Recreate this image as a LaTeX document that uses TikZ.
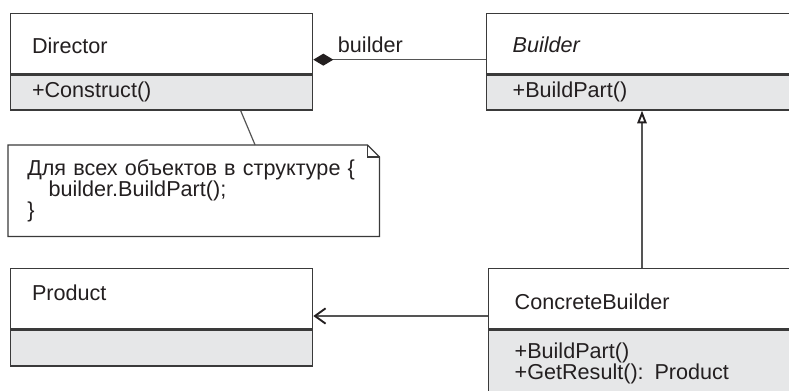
\documentclass[tikz,border=0pt]{standalone}
\usepackage{fontspec}
\setmainfont{Liberation Sans}
\usetikzlibrary{arrows.meta}
\definecolor{boxline}{HTML}{3A3A3A}
\definecolor{opsfill}{HTML}{E6E7E8}
\definecolor{inkgray}{HTML}{231F20}
\definecolor{linkgray}{HTML}{555555}
\newcommand{\umlfont}{\fontsize{16.2pt}{15.5pt}\selectfont}
\begin{document}
\begin{tikzpicture}[
x=0.75pt,y=-0.75pt,
cls/.style={%
draw=boxline,
line width=1pt,
anchor=north west,
align=left,
text=inkgray,
font=\umlfont,
inner ysep=0pt
},
leftcls/.style={cls, inner xsep=16pt, text width=194.5pt},
rightcls/.style={cls, inner xsep=19.5pt, text width=200pt},
namepart/.style={fill=white, minimum height=45pt, text height=15pt, text depth=0pt},
opspart/.style={fill=opsfill, minimum height=26.25pt, text height=7pt, text depth=0pt},
notebox/.style={anchor=north west, align=left, text=inkgray, font=\umlfont,
  inner xsep=14.25pt, inner ysep=0pt, minimum height=68.25pt, text width=249.75pt},
link/.style={draw=linkgray, line width=0.9pt}
]
\useasboundingbox (0,0) rectangle (789,391);
%% Director
\node[leftcls,namepart]at(10,13)(dirname){Director};
\node[leftcls,opspart]at(dirname.south west)(dirops){+Construct()};
%% Builder
\node[rightcls,namepart,text height=14pt]at(486,13)(bldname){\textit{Builder}};
\node[rightcls,opspart]at(bldname.south west)(bldops){+BuildPart()};
%% Product
\node[leftcls,namepart,text height=3pt]at(10,268)(prodname){Product};
\node[leftcls,opspart,minimum height=27pt]at(prodname.south west)(prodops){};
%% ConcreteBuilder
\node[rightcls,namepart,text height=17pt]at(488,268)(cbname){ConcreteBuilder};
\node[rightcls,fill=opsfill,minimum height=50pt]at(cbname.south west)(cbops){+BuildPart()\\+GetResult(): Product};
%% Note
\node[notebox]at(8,145)(note){Для всех объектов в структуре \{\\\hspace*{16pt}builder.BuildPart();\\\}};
\draw[draw=boxline,line width=0.9pt](note.north west)--([xshift=-9pt]note.north east)
  --([yshift=-9pt]note.north east)--(note.south east)--(note.south west)--cycle;
\draw[draw=boxline,line width=0.9pt]([xshift=-9pt]note.north east)|-([yshift=-9pt]note.north east);
\draw[link]([xshift=59.25pt]dirops.south)--([xshift=46pt]note.north);
%% Relations
\draw[link,{Diamond[length=15pt,width=9pt,color=inkgray]}-]([yshift=-12pt]dirname.east)--([yshift=-12pt]bldname.west)
  node[pos=0,anchor=base west,xshift=18pt,yshift=5.25pt,text=inkgray,font=\umlfont,inner sep=0pt]{builder};
\coordinate(gx)at(642,0);
\draw[link,-{Triangle[open,length=9.5pt,width=7pt,line width=1.4pt,color=inkgray]}](cbname.north -| gx)--(bldops.south -| gx);
\draw[link,-{Straight Barb[length=8pt,width=11.5pt,line width=1.4pt,color=inkgray]}]([yshift=-13pt]cbname.west)--([yshift=-13pt]prodname.east);
\end{tikzpicture}
\end{document}
